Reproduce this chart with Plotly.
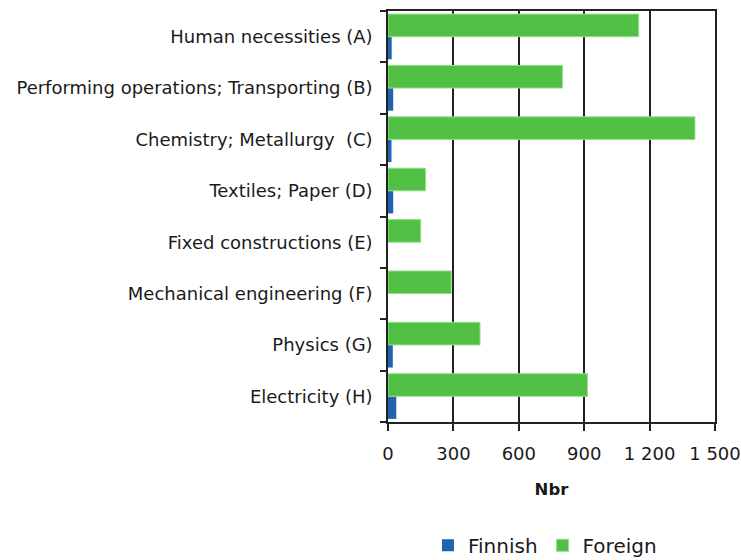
import plotly.graph_objects as go

categories = [
    "Human necessities (A)",
    "Performing operations; Transporting (B)",
    "Chemistry; Metallurgy  (C)",
    "Textiles; Paper (D)",
    "Fixed constructions (E)",
    "Mechanical engineering (F)",
    "Physics (G)",
    "Electricity (H)",
]
finnish = [17, 24, 16, 24, 0, 0, 22, 38]
foreign = [1150, 800, 1408, 172, 150, 290, 422, 915]
x_tickvals = [0, 300, 600, 900, 1200, 1500]
x_ticktext = ["0", "300", "600", "900", "1 200", "1 500"]

FONT = "DejaVu Sans"
cat_order = categories[::-1]

fig = go.Figure()
fig.add_trace(go.Bar(
    y=categories, x=finnish, name="Finnish", orientation="h",
    marker=dict(color="#1f63b1", line=dict(width=0)),
))
fig.add_trace(go.Bar(
    y=categories, x=foreign, name="Foreign", orientation="h",
    marker=dict(color="#52c044", line=dict(color="#92e08a", width=1)),
))

fig.update_layout(
    width=741, height=560,
    margin=dict(l=388, r=26, t=11, b=138, pad=0, autoexpand=False),
    paper_bgcolor="white", plot_bgcolor="white",
    barmode="group", bargap=0.12, bargroupgap=0,
    font=dict(family=FONT, size=18, color="#1a1a1a"),
    showlegend=True,
    legend=dict(orientation="h", x=0.48, xanchor="center", y=-0.30, yanchor="middle",
                font=dict(family=FONT, size=20, color="#1a1a1a"), traceorder="normal"),
    xaxis=dict(
        range=[0, 1500], tickvals=x_tickvals, ticktext=x_ticktext,
        automargin=False,
        showgrid=True, gridcolor="#222222", gridwidth=1.5,
        showline=True, linecolor="#222222", linewidth=1.5, mirror=True,
        ticks="outside", ticklen=7, tickcolor="#222222", tickwidth=1.5,
        ticklabelstandoff=8,
        zeroline=False,
        tickfont=dict(family=FONT, size=18, color="#1a1a1a"),
        title=dict(text="<b>Nbr</b>", font=dict(family=FONT, size=16.5, color="#1a1a1a"), standoff=20),
    ),
    yaxis=dict(
        type="category", categoryorder="array", categoryarray=cat_order,
        automargin=False,
        showline=True, linecolor="#222222", linewidth=1.5, mirror=True,
        ticks="outside", ticklen=6, tickcolor="#222222", tickwidth=1.5,
        ticklabelstandoff=10,
        tickson="boundaries", showgrid=False,
        tickfont=dict(family=FONT, size=18, color="#1a1a1a"),
    ),
)

fig.write_html(
    "out.html",
    config={"displayModeBar": False},
    post_script="document.body.style.margin='0';document.body.style.overflow='hidden';",
)
